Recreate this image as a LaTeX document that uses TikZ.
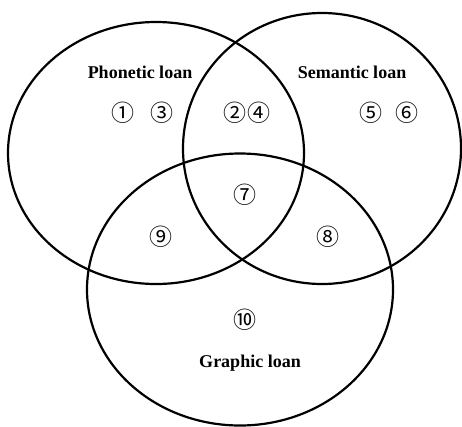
\documentclass[tikz,border=0pt]{standalone}
\usepackage{fontspec}
\setmainfont{Liberation Serif}
\newfontfamily\circfont{Noto Sans CJK SC}
\begin{document}
\begin{tikzpicture}[x=1pt,y=-1pt,
  venn/.style={draw=black,line width=2.2pt},
  lbl/.style={font=\fontsize{18}{20}\selectfont\bfseries,inner sep=0pt},
  num/.style={font=\circfont\fontsize{23}{25}\selectfont,inner sep=0pt}]
\useasboundingbox (0,0) rectangle (462,426);
\draw[venn] (156,153) ellipse [x radius=148,y radius=131];
\draw[venn] (322,148.5) ellipse [x radius=139,y radius=135.5];
\draw[venn] (240,289.5) ellipse [x radius=153,y radius=136];
\node[lbl] (phon) at (140,72) {Phonetic loan};
\node[lbl] (sem) at (352,72) {Semantic loan};
\node[lbl] (graph) at (250,363) {Graphic loan};
\node[num] (n1) at (123,113) {①};
\node[num] (n3) at (162,113) {③};
\node[num] (n2) at (235,113) {②};
\node[num] (n4) at (259,113) {④};
\node[num] (n5) at (371,113) {⑤};
\node[num] (n6) at (407,113) {⑥};
\node[num] (n7) at (245,195) {⑦};
\node[num] (n9) at (161,237) {⑨};
\node[num] (n8) at (328,237) {⑧};
\node[num] (n10) at (245,320) {⑩};
\end{tikzpicture}
\end{document}
